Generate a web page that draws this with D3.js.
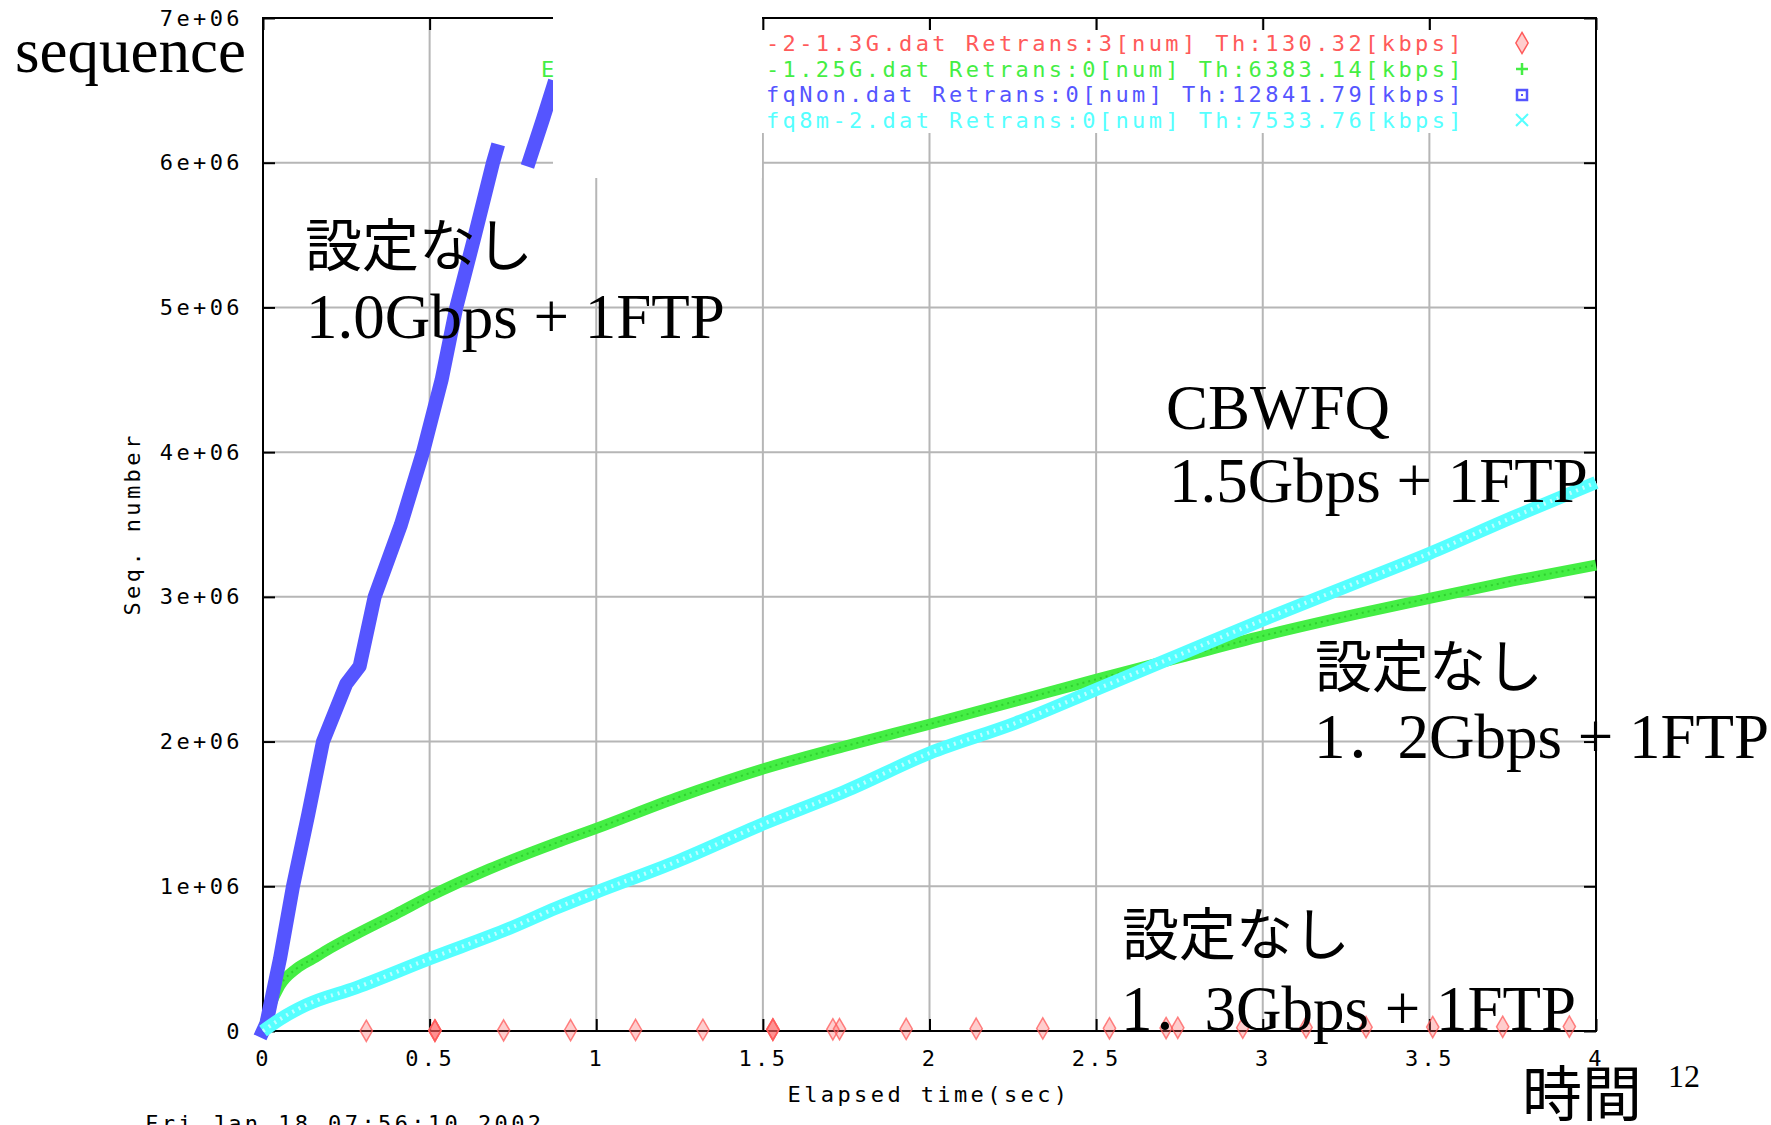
<!DOCTYPE html>
<html>
<head>
<meta charset="utf-8">
<script src="https://cdn.jsdelivr.net/npm/d3@7"></script>
<style>
  body { margin: 0; background: #fff; }
  svg { display: block; }
</style>
</head>
<body>
<script>
// 画面サイズ
const width = 1771, height = 1125;

// 目盛り
const xTicks = [0, 0.5, 1, 1.5, 2, 2.5, 3, 3.5, 4];
const yTicks = [0, 1e6, 2e6, 3e6, 4e6, 5e6, 6e6, 7e6];

// -2-1.3G.dat (赤・ひし形)
const redTime = [0.31, 0.516, 0.516, 0.516, 0.722, 0.923, 1.118, 1.32, 1.53, 1.53, 1.53, 1.71, 1.73,
  1.93, 2.14, 2.34, 2.54, 2.71, 2.745, 2.94, 3.13, 3.31, 3.51, 3.72, 3.92];
const redSeq = [1448, 2896, 2896, 2896, 4344, 5792, 7240, 8688, 10136, 10136, 10136, 11584, 13032,
  14480, 15928, 17376, 18824, 20272, 21720, 23168, 24616, 26064, 27512, 28960, 30408];

// -1.25G.dat (緑・+)
const greenTime = [0, 0.02, 0.05, 0.1, 0.15, 0.2, 0.28, 0.4, 0.5, 0.68, 0.88, 1.0, 1.24, 1.5, 1.75,
  2.0, 2.26, 2.5, 2.75, 3.0, 3.28, 3.5, 3.75, 4.0];
const greenSeq = [0, 0.16e6, 0.31e6, 0.43e6, 0.50e6, 0.57e6, 0.67e6, 0.81e6, 0.93e6, 1.12e6, 1.30e6,
  1.40e6, 1.61e6, 1.81e6, 1.97e6, 2.12e6, 2.28e6, 2.43e6, 2.58e6, 2.73e6, 2.88e6, 2.99e6, 3.11e6, 3.22e6];

// fqNon.dat (青・四角)  null = 途切れ
const blueTime = [0, 0.01, 0.051, 0.09, 0.136, 0.18, 0.25, 0.29, 0.335, 0.414, 0.48, 0.536, 0.58,
  0.636, 0.69, 0.70, 0.75, 0.80, 0.84, 0.87];
const blueSeq = [0, 0.05e6, 0.5e6, 1.0e6, 1.5e6, 2.0e6, 2.4e6, 2.52e6, 3.0e6, 3.5e6, 4.0e6, 4.5e6,
  5.0e6, 5.5e6, 6.0e6, 6.08e6, null, 6.02e6, 6.3e6, 6.52e6];

// fq8m-2.dat (水色・x)
const cyanTime = [0, 0.05, 0.13, 0.28, 0.5, 0.74, 0.88, 1.0, 1.24, 1.5, 1.75, 2.0, 2.26, 2.5, 2.75,
  3.0, 3.25, 3.5, 3.75, 4.0];
const cyanSeq = [0, 0.08e6, 0.18e6, 0.30e6, 0.50e6, 0.71e6, 0.85e6, 0.96e6, 1.17e6, 1.43e6, 1.66e6,
  1.92e6, 2.13e6, 2.36e6, 2.60e6, 2.84e6, 3.07e6, 3.30e6, 3.55e6, 3.79e6];

// 凡例
const legendLabels = [
  "-2-1.3G.dat Retrans:3[num] Th:130.32[kbps]",
  "-1.25G.dat Retrans:0[num] Th:6383.14[kbps]",
  "fqNon.dat Retrans:0[num] Th:12841.79[kbps]",
  "fq8m-2.dat Retrans:0[num] Th:7533.76[kbps]"
];
const legendColors = ["#ff5a5a", "#44ee44", "#5555ff", "#55ffff"];

const mono = "'DejaVu Sans Mono', monospace";
const serif = "'Liberation Serif', 'Noto Sans CJK JP', serif";
const gothic = "'Noto Sans CJK JP', sans-serif";

const svg = d3.select("body").append("svg")
  .attr("width", width).attr("height", height);

// スケール
const x = d3.scaleLinear().domain([0, 4]).range([263, 1596]);
const y = d3.scaleLinear().domain([0, 7e6]).range([1031, 18]);

// グリッド線
svg.append("g").selectAll("line").data(xTicks.slice(1, -1)).join("line")
  .attr("x1", d => x(d)).attr("x2", d => x(d))
  .attr("y1", y(0)).attr("y2", y(7e6))
  .attr("stroke", "#b6b6b6").attr("stroke-width", 2);
svg.append("g").selectAll("line").data(yTicks.slice(1, -1)).join("line")
  .attr("x1", x(0)).attr("x2", x(4))
  .attr("y1", d => y(d)).attr("y2", d => y(d))
  .attr("stroke", "#b6b6b6").attr("stroke-width", 2);

// gnuplot の凡例部分はグリッドが消える
svg.append("rect")
  .attr("x", 762).attr("y", 30).attr("width", x(4) - 762 - 2).attr("height", 103)
  .attr("fill", "#fff");

// 枠
svg.append("rect")
  .attr("x", x(0)).attr("y", y(7e6))
  .attr("width", x(4) - x(0)).attr("height", y(0) - y(7e6))
  .attr("fill", "none").attr("stroke", "#000").attr("stroke-width", 2);

// 軸
function styleAxis(g) {
  g.select(".domain").remove();
  g.attr("font-family", mono).attr("font-size", 22);
  g.selectAll(".tick line").attr("stroke-width", 2);
  g.selectAll(".tick text").attr("letter-spacing", 3.4);
}
svg.append("g").attr("transform", `translate(0,${y(0)})`)
  .call(d3.axisBottom(x).tickValues(xTicks).tickSize(-12).tickPadding(19).tickFormat(d => d))
  .call(styleAxis);
svg.append("g").attr("transform", `translate(${x(0)},0)`)
  .call(d3.axisLeft(y).tickValues(yTicks).tickSize(-12).tickPadding(20)
    .tickFormat(d => d === 0 ? "0" : (d / 1e6) + "e+06"))
  .call(styleAxis);
svg.append("g").attr("transform", `translate(0,${y(7e6)})`)
  .call(d3.axisTop(x).tickValues(xTicks).tickSize(-12).tickFormat(""))
  .call(styleAxis);
svg.append("g").attr("transform", `translate(${x(4)},0)`)
  .call(d3.axisRight(y).tickValues(yTicks).tickSize(-12).tickFormat(""))
  .call(styleAxis);

// 軸ラベル
svg.append("text")
  .attr("x", 929).attr("y", 1102).attr("text-anchor", "middle")
  .attr("font-family", mono).attr("font-size", 22).attr("letter-spacing", 3.4)
  .text("Elapsed time(sec)");
svg.append("text")
  .attr("transform", "translate(140,524) rotate(-90)").attr("text-anchor", "middle")
  .attr("font-family", mono).attr("font-size", 22).attr("letter-spacing", 3.4)
  .text("Seq. number");
svg.append("text")
  .attr("x", 145).attr("y", 1131)
  .attr("font-family", mono).attr("font-size", 22).attr("letter-spacing", 3.4)
  .text("Fri Jan 18 07:56:10 2002");

// データ系列
const line = d3.line()
  .defined(d => d[1] != null)
  .x(d => x(d[0])).y(d => y(d[1]));
const smooth = d3.line()
  .curve(d3.curveMonotoneX)
  .x(d => x(d[0])).y(d => y(d[1]));

// 赤: ひし形
const diamond = d3.symbol().type(d3.symbolDiamond).size(130);
svg.append("g").selectAll("path").data(d3.zip(redTime, redSeq)).join("path")
  .attr("transform", d => `translate(${x(d[0])},${y(d[1])})`)
  .attr("d", diamond)
  .attr("fill", "#ff5a5a").attr("fill-opacity", 0.3)
  .attr("stroke", "#ff5a5a").attr("stroke-opacity", 0.75).attr("stroke-width", 1.5);

svg.append("path").datum(d3.zip(greenTime, greenSeq))
  .attr("d", smooth).attr("fill", "none")
  .attr("stroke", legendColors[1]).attr("stroke-width", 11);
svg.append("path").datum(d3.zip(greenTime, greenSeq))
  .attr("d", smooth).attr("fill", "none")
  .attr("stroke", "#2fd02f").attr("stroke-width", 2).attr("stroke-dasharray", "2 4");

svg.append("path").datum(d3.zip(blueTime, blueSeq))
  .attr("d", line).attr("fill", "none")
  .attr("stroke", legendColors[2]).attr("stroke-width", 14)
  .attr("stroke-linecap", "square").attr("stroke-linejoin", "round");

svg.append("path").datum(d3.zip(cyanTime, cyanSeq))
  .attr("d", smooth).attr("fill", "none")
  .attr("stroke", legendColors[3]).attr("stroke-width", 13);
// x 記号の細かい模様
svg.append("path").datum(d3.zip(cyanTime, cyanSeq))
  .attr("d", smooth).attr("fill", "none")
  .attr("stroke", "#c0ffff").attr("stroke-width", 4).attr("stroke-dasharray", "2 5");

// 凡例
const legend = svg.append("g");
legend.selectAll("text").data(legendLabels).join("text")
  .attr("x", 1465).attr("y", (d, i) => 51 + i * 25.7)
  .attr("text-anchor", "end")
  .attr("font-family", mono).attr("font-size", 22).attr("letter-spacing", 3.4)
  .attr("fill", (d, i) => legendColors[i])
  .text(d => d);
const lx = 1522;
legend.append("path")
  .attr("transform", `translate(${lx},43)`).attr("d", diamond)
  .attr("fill", "#ff5a5a").attr("fill-opacity", 0.3).attr("stroke", "#ff5a5a").attr("stroke-width", 1.5);
legend.append("path")
  .attr("d", `M${lx - 6},69h12M${lx},63v12`)
  .attr("stroke", legendColors[1]).attr("stroke-width", 2.5);
legend.append("rect")
  .attr("x", lx - 5).attr("y", 90).attr("width", 10).attr("height", 10)
  .attr("fill", "none").attr("stroke", legendColors[2]).attr("stroke-width", 2.5);
legend.append("rect")
  .attr("x", lx - 1).attr("y", 94).attr("width", 2).attr("height", 2)
  .attr("fill", legendColors[2]);
legend.append("path")
  .attr("d", `M${lx - 6},114l12,12M${lx + 6},114l-12,12`)
  .attr("stroke", legendColors[3]).attr("stroke-width", 2);

// スライドで貼られた白い四角
svg.append("rect")
  .attr("x", 553).attr("y", 0).attr("width", 209).attr("height", 178)
  .attr("fill", "#fff");
// 四角の左に残った凡例の一文字
svg.append("text")
  .attr("x", 541).attr("y", 77)
  .attr("font-family", mono).attr("font-size", 22)
  .attr("fill", legendColors[1]).text("E");

// 注記 (全角ピリオドは少し狭い幅で描く)
const notes = [
  { parts: ["sequence"], x: 15, y: 72, font: serif, size: 63 },
  { parts: ["設定なし"], x: 305, y: 266, font: gothic, size: 57 },
  { parts: ["1.0Gbps + 1FTP"], x: 306, y: 338, font: serif, size: 63 },
  { parts: ["CBWFQ"], x: 1166, y: 429, font: serif, size: 63 },
  { parts: ["1.5Gbps + 1FTP"], x: 1169, y: 502, font: serif, size: 63 },
  { parts: ["設定なし"], x: 1315, y: 687, font: gothic, size: 57 },
  { parts: ["1", "．", "2Gbps + 1FTP"], x: 1314, y: 758, font: serif, size: 63 },
  { parts: ["設定なし"], x: 1122, y: 955, font: gothic, size: 57 },
  { parts: ["1", "．", "3Gbps + 1FTP"], x: 1121, y: 1030, font: serif, size: 63 },
  { parts: ["時間"], x: 1522, y: 1116, font: gothic, size: 60 },
  { parts: ["12"], x: 1668, y: 1087, font: serif, size: 32 }
];
svg.append("g").selectAll("text").data(notes).join("text")
  .attr("x", d => d.x).attr("y", d => d.y)
  .attr("font-family", d => d.font).attr("font-size", d => d.size)
  .attr("fill", "#000")
  .selectAll("tspan").data(d => d.parts).join("tspan")
  .attr("font-size", p => p === "．" ? 52 : null)
  .text(p => p);
</script>
</body>
</html>
